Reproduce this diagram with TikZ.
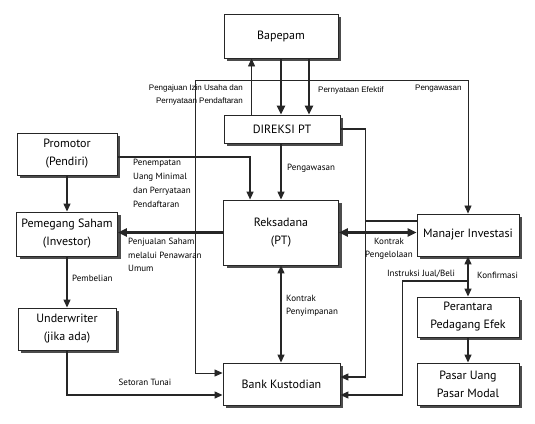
\documentclass[tikz,border=0pt]{standalone}
\usepackage{fontspec}
\setmainfont{PT Sans}
\newfontfamily\arialfont{Liberation Sans}
\usetikzlibrary{arrows.meta,shadows,calc}
\tikzset{
  box/.style={draw=black!85, line width=0.9pt, fill=white, inner sep=0pt, align=center,
    font=\fontsize{12}{18}\selectfont,
    drop shadow={shadow xshift=3pt, shadow yshift=-3pt, fill=black!70, opacity=1}},
  tip/.tip={Triangle[length=8pt,width=7pt]},
  conn/.style={draw=black!85, line width=1.3pt, -tip},
  dconn/.style={draw=black!85, line width=1.3pt, tip-tip},
  thickconn/.style={draw=black!85, line width=2.6pt, -{Triangle[length=9pt,width=8pt]}},
  thickdbl/.style={draw=black!85, line width=2.6pt, {Triangle[length=9pt,width=8pt]}-{Triangle[length=9pt,width=8pt]}},
  thinconn/.style={draw=black!85, line width=0.8pt, -tip},
  thindbl/.style={draw=black!85, line width=0.8pt, tip-tip},
  plainline/.style={draw=black!85, line width=1.1pt},
  lbl/.style={inner sep=0pt, font=\fontsize{9}{14}\selectfont, align=left},
  albl/.style={inner sep=0pt, font=\arialfont\fontsize{8}{13}\selectfont}
}
\begin{document}
\begin{tikzpicture}[x=1pt,y=-1pt]
\fill[white] (0,0) rectangle (535,423);
\useasboundingbox (0,0) rectangle (535,423);

% boxes
\node[box, minimum width=114pt, minimum height=44pt] (bap) at (281,36) {Bapepam};
\node[box, minimum width=116pt, minimum height=28pt] (dir) at (282,129) {DIREKSI PT};
\node[box, minimum width=100pt, minimum height=42pt] (pro) at (67,154) {Promotor\\(Pendiri)};
\node[box, minimum width=101pt, minimum height=44pt] (ps) at (67,234) {Pemegang Saham\\(Investor)};
\node[box, minimum width=98pt, minimum height=42pt] (uw) at (67,329) {Underwriter\\(jika ada)};
\node[box, minimum width=115pt, minimum height=65pt] (rd) at (281,232.5) {Reksadana\\(PT)};
\node[box, minimum width=117pt, minimum height=42pt] (bk) at (281.5,384) {Bank Kustodian};
\node[box, minimum width=102pt, minimum height=42pt] (mi) at (468,235) {Manajer Investasi};
\node[box, minimum width=102pt, minimum height=40pt] (pe) at (468,317) {Perantara\\Pedagang Efek};
\node[box, minimum width=102pt, minimum height=42pt] (pu) at (468,384) {Pasar Uang\\Pasar Modal};

% Bapepam <-> Direksi
\coordinate (b2) at ($(bap.south)+(28,0)$);
\draw[thickconn] (bap.south) -- (bap.south |- dir.north);
\draw[thickconn] (b2) -- (b2 |- dir.north);
\coordinate (d1) at ($(dir.north west)+(28,0)$);
\draw[thinconn] (d1) -- (d1 |- bap.south);

% Pengawasan (Bapepam) line
\coordinate (pv) at (195,80);
\draw[thindbl] (mi.north) |- (pv) |- ($(bk.west)+(0,-11)$);

% Direksi -> Reksadana
\draw[conn] (rd.north |- dir.south) -- (rd.north);

% Promotor -> Reksadana
\coordinate (r1) at ($(rd.north west)+(27,0)$);
\draw[conn] ($(pro.east)+(0,3)$) -| (r1);

% Reksadana -> Pemegang Saham
\draw[thickconn] (rd.west) -- (rd.west -| ps.east);
% Reksadana <-> Manajer Investasi
\draw[thickdbl] (rd.east) -- (rd.east -| mi.west);

% Direksi -> Bank Kustodian, Manajer Investasi joining
\coordinate (j1) at ($(bk.east)+(25,-7)$);
\draw[conn] (dir.east) -| (j1) -- (j1 -| bk.east);
\coordinate (m1) at ($(mi.west)+(0,-14)$);
\draw[plainline] (m1) -- (m1 -| j1);

% Manajer Investasi <-> Perantara, Instruksi -> Bank Kustodian
\draw[dconn] (mi.south) -- (pe.north);
\coordinate (i0) at ($(mi.south)!0.61!(pe.north)$);
\coordinate (i1) at ($(bk.east)+(62,11)$);
\draw[conn] (i0) -| (i1) -- (i1 -| bk.east);

% Perantara -> Pasar
\draw[conn] (pe.south) -- (pu.north);

% Reksadana <-> Bank Kustodian
\draw[dconn] (rd.south) -- (rd.south |- bk.north);

% left column
\draw[conn] (pro.south) -- (ps.north);
\draw[conn] (ps.south) -- (uw.north);
\draw[conn] (uw.south) |- ($(bk.west)+(0,11)$);

% labels
\node[albl, anchor=north east, align=right] (l1) at (243,85) {Pengajuan Izin Usaha dan\\Pernyataan Pendaftaran};
\node[albl, anchor=west] (l2) at (318,90) {Pernyataan Efektif};
\node[albl, anchor=west] (l3) at (415,89) {Pengawasan};
\node[lbl, anchor=west] (l4) at (287,168) {Pengawasan};
\node[lbl, anchor=north west] (l5) at (133,159) {Penempatan\\Uang Minimal\\dan Perryataan\\Pendaftaran};
\node[lbl, anchor=north west, font=\fontsize{9}{13.5}\selectfont] (l6) at (128,238) {Penjualan Saham\\melalui Penawaran\\Umum};
\node[lbl, anchor=west] (l7) at (72,278) {Pembelian};
\node[lbl, anchor=center] (l8) at (145,382) {Setoran Tunai};
\node[lbl, anchor=north west, font=\fontsize{9}{13}\selectfont] (l9) at (286,295) {Kontrak\\Penyimpanan};
\node[lbl, anchor=north, align=center, font=\fontsize{9}{13}\selectfont] (l10) at (389,238) {Kontrak\\Pengelolaan};
\node[lbl, anchor=center] (l11) at (421,274) {Instruksi Jual/Beli};
\node[lbl, anchor=west] (l12) at (477,275) {Konfirmasi};
\end{tikzpicture}
\end{document}
